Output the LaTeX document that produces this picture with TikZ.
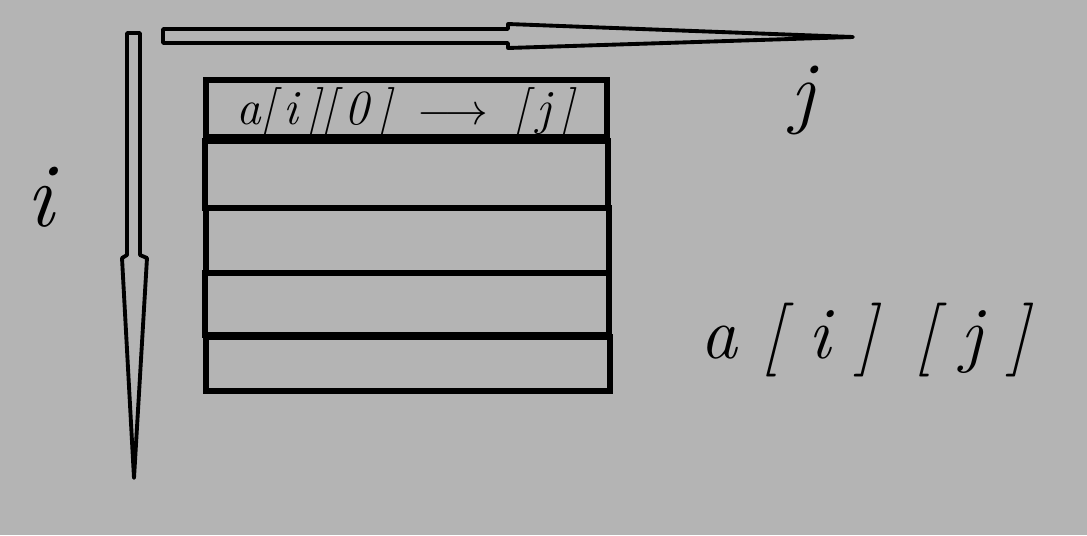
\documentclass[tikz,border=0pt]{standalone}
\usepackage{tikz}
\definecolor{sketchgray}{RGB}{180,180,180}
\begin{document}
\begin{tikzpicture}[x=0.02cm, y=-0.02cm]
	\tikzstyle{Row} = [rectangle, draw, line width=3.1pt, inner sep=0pt]
	\tikzstyle{Arrow} = [draw, line width=2.2pt, line join=round]
	\tikzstyle{Hand} = [inner sep=0pt]
	\fill[sketchgray] (0,0) rectangle (1087,535);
	\useasboundingbox (0,0) rectangle (1087,535);
	% arrows
	\draw[Arrow] (163,29) -- (508,29) -- (508,24) -- (853,37) -- (508,48) -- (508,43) -- (163,43) -- cycle;
	\draw[Arrow] (127,33) -- (140,33) -- (140,255) -- (147,258) -- (134,478) -- (122,258) -- (127,255) -- cycle;
	% rows
	\node (r1) at (406.5,108.5) [Row, minimum width=8.02cm, minimum height=1.14cm] {};
	\node (r2) at (406.5,174.5) [Row, minimum width=8.06cm, minimum height=1.34cm] {};
	\node (r3) at (407.5,240.5) [Row, minimum width=8.06cm, minimum height=1.30cm] {};
	\node (r4) at (407,304) [Row, minimum width=8.08cm, minimum height=1.24cm] {};
	\node (r5) at (408,364) [Row, minimum width=8.08cm, minimum height=1.08cm] {};
	% labels
	\node (cell) at (405,112) [Hand, font=\fontsize{28}{28}\selectfont\itshape] {a[\,i\,][\,0\,] \,$\longrightarrow$\, [\,j\,]};
	\node (li) at (40,197) [Hand, font=\fontsize{52}{52}\selectfont\itshape] {i};
	\node (lj) at (803,100) [Hand, font=\fontsize{46}{46}\selectfont\itshape] {j};
	\node (aij) at (865,340) [Hand, font=\fontsize{42}{42}\selectfont\itshape] {a\,\,[\,\,i\,\,]\,\,\,[\,\,j\,\,]};
\end{tikzpicture}
\end{document}
